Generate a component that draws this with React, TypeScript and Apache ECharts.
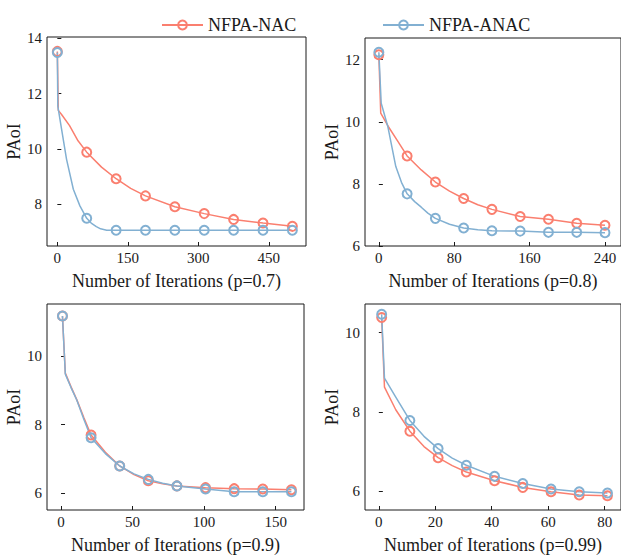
import React, { useEffect, useRef } from "react";
import * as echarts from "echarts";

const seriesNames = ["NFPA-NAC", "NFPA-ANAC"];
const seriesColors = ["#FA7F6F", "#82B0D2"];
const xAxisNames = [
  "Number of Iterations (p=0.7)",
  "Number of Iterations (p=0.8)",
  "Number of Iterations (p=0.9)",
  "Number of Iterations (p=0.99)",
];
const yAxisName = "PAoI";

// p = 0.7
const p07NacX = [0, 2, 9, 26, 44, 62.5, 94, 125, 156, 187.5, 250, 312.5, 375, 437.5, 500];
const p07NacY = [13.53, 11.4, 11.25, 10.85, 10.3, 9.89, 9.35, 8.93, 8.58, 8.31, 7.92, 7.67, 7.46, 7.33, 7.21];
const p07AnacX = [0, 1, 9, 19.5, 34, 48, 62.5, 72, 83, 92, 105, 125, 187.5, 250, 312.5, 375, 437.5, 500];
const p07AnacY = [13.49, 11.55, 10.72, 9.64, 8.55, 7.95, 7.5, 7.33, 7.2, 7.12, 7.07, 7.07, 7.07, 7.07, 7.07, 7.07, 7.07, 7.07];
const p07Markers = [0, 62.5, 125, 187.5, 250, 312.5, 375, 437.5, 500];
const p07XTicks = [0, 150, 300, 450];
const p07YTicks = [8, 10, 12, 14];

// p = 0.8
const p08NacX = [0, 2, 10, 20, 30, 45, 60, 75, 90, 105, 120, 150, 180, 210, 240];
const p08NacY = [12.16, 10.28, 9.85, 9.38, 8.9, 8.45, 8.06, 7.77, 7.53, 7.33, 7.18, 6.95, 6.86, 6.73, 6.67];
const p08AnacX = [0, 2.5, 9.5, 18, 24, 30, 38, 45, 52, 60, 75, 90, 105, 120, 150, 180, 210, 240];
const p08AnacY = [12.24, 10.6, 9.85, 8.56, 8.05, 7.68, 7.43, 7.25, 7.06, 6.89, 6.7, 6.58, 6.52, 6.49, 6.48, 6.44, 6.44, 6.43];
const p08Markers = [0, 30, 60, 90, 120, 150, 180, 210, 240];
const p08XTicks = [0, 80, 160, 240];
const p08YTicks = [6, 8, 10, 12];

// p = 0.9
const p09NacX = [1, 3, 7, 11, 16, 21, 31, 41, 51, 61, 71, 81, 101, 121, 141, 161];
const p09NacY = [11.16, 9.5, 9.1, 8.73, 8.2, 7.7, 7.2, 6.8, 6.55, 6.37, 6.28, 6.22, 6.17, 6.14, 6.13, 6.11];
const p09AnacX = [1, 3, 7, 11, 16, 21, 31, 41, 51, 61, 71, 81, 101, 121, 141, 161];
const p09AnacY = [11.16, 9.47, 9.08, 8.72, 8.15, 7.62, 7.16, 6.8, 6.57, 6.41, 6.3, 6.22, 6.13, 6.05, 6.05, 6.05];
const p09Markers = [1, 21, 41, 61, 81, 101, 121, 141, 161];
const p09XTicks = [0, 50, 100, 150];
const p09YTicks = [6, 8, 10];

// p = 0.99
const p099NacX = [1, 2, 6, 11, 16, 21, 26, 31, 41, 51, 61, 71, 81];
const p099NacY = [10.38, 8.62, 8.05, 7.51, 7.12, 6.84, 6.64, 6.48, 6.26, 6.09, 5.98, 5.9, 5.88];
const p099AnacX = [1, 2, 6, 11, 16, 21, 26, 31, 41, 51, 61, 71, 81];
const p099AnacY = [10.46, 8.85, 8.37, 7.78, 7.38, 7.07, 6.83, 6.65, 6.37, 6.19, 6.05, 5.98, 5.95];
const p099Markers = [1, 11, 21, 31, 41, 51, 61, 71, 81];
const p099XTicks = [0, 20, 40, 60, 80];
const p099YTicks = [6, 8, 10];

const FONT = "serif";
const INK = "#1a1a1a";

const panels = [
  { nac: [p07NacX, p07NacY], anac: [p07AnacX, p07AnacY], markers: p07Markers, xTicks: p07XTicks, yTicks: p07YTicks, xMin: -22, xMax: 529, yMin: 6.5, yMax: 14.05 },
  { nac: [p08NacX, p08NacY], anac: [p08AnacX, p08AnacY], markers: p08Markers, xTicks: p08XTicks, yTicks: p08YTicks, xMin: -14.7, xMax: 257, yMin: 6, yMax: 12.7 },
  { nac: [p09NacX, p09NacY], anac: [p09AnacX, p09AnacY], markers: p09Markers, xTicks: p09XTicks, yTicks: p09YTicks, xMin: -9.8, xMax: 169.8, yMin: 5.52, yMax: 11.51 },
  { nac: [p099NacX, p099NacY], anac: [p099AnacX, p099AnacY], markers: p099Markers, xTicks: p099XTicks, yTicks: p099YTicks, xMin: -4.9, xMax: 85.8, yMin: 5.52, yMax: 10.72 },
];

const grids = [
  { left: 47, top: 37, width: 259, height: 209 },
  { left: 365, top: 38, width: 260, height: 208 },
  { left: 47, top: 304, width: 257, height: 207 },
  { left: 365, top: 304, width: 260, height: 207 },
];

function buildData(xs: number[], ys: number[], markers: number[]) {
  return xs.map((x, i) =>
    markers.includes(x) ? { value: [x, ys[i]] } : { value: [x, ys[i]], symbol: "none" }
  );
}

export default function App() {
  const ref = useRef<HTMLDivElement>(null);
  useEffect(() => {
    if (!ref.current) return;
    const chart = echarts.init(ref.current, undefined, { renderer: "svg" });
    const xAxis: any[] = [];
    const yAxis: any[] = [];
    const series: any[] = [];
    panels.forEach((p, i) => {
      xAxis.push({
        type: "value",
        gridIndex: i,
        min: p.xMin,
        max: p.xMax,
        name: xAxisNames[i],
        nameLocation: "middle",
        nameGap: 26,
        nameTextStyle: { fontFamily: FONT, fontSize: 18, color: INK },
        splitLine: { show: false },
        axisLine: { show: false },
        axisTick: { show: true, inside: true, length: 4, customValues: p.xTicks, lineStyle: { color: INK } },
        axisLabel: { customValues: p.xTicks, fontFamily: FONT, fontSize: 15, color: INK, margin: 4 },
      });
      yAxis.push({
        type: "value",
        gridIndex: i,
        min: p.yMin,
        max: p.yMax,
        name: yAxisName,
        nameLocation: "middle",
        nameGap: 20,
        nameTextStyle: { fontFamily: FONT, fontSize: 18, color: INK },
        splitLine: { show: false },
        axisLine: { show: false },
        axisTick: { show: true, inside: true, length: 4, customValues: p.yTicks, lineStyle: { color: INK } },
        axisLabel: { customValues: p.yTicks, fontFamily: FONT, fontSize: 15, color: INK, margin: 5 },
      });
      [p.nac, p.anac].forEach((d, k) => {
        series.push({
          type: "line",
          name: seriesNames[k],
          xAxisIndex: i,
          yAxisIndex: i,
          data: buildData(d[0], d[1], p.markers),
          smooth: false,
          symbol: "circle",
          symbolSize: 9,
          showSymbol: true,
          showAllSymbol: true,
          color: seriesColors[k],
          lineStyle: { color: seriesColors[k], width: 1.5 },
          itemStyle: { color: "rgba(255,255,255,0)", borderColor: seriesColors[k], borderWidth: 2 },
          emphasis: { disabled: true },
        });
      });
    });
    chart.setOption({
      animation: false,
      backgroundColor: "#fff",
      textStyle: { fontFamily: FONT },
      legend: [
        {
          data: [seriesNames[0]],
          left: 156,
          top: 11,
          itemWidth: 41,
          itemHeight: 11,
          textStyle: { fontFamily: FONT, fontSize: 18, color: INK },
        },
        {
          data: [seriesNames[1]],
          left: 377,
          top: 11,
          itemWidth: 41,
          itemHeight: 11,
          textStyle: { fontFamily: FONT, fontSize: 18, color: INK },
        },
      ],
      grid: grids.map((g) => ({ ...g, show: true, borderColor: INK, borderWidth: 1, backgroundColor: "transparent" })),
      xAxis,
      yAxis,
      series,
    });
    return () => chart.dispose();
  }, []);
  return (
    <div
      ref={ref}
      style={{ position: "absolute", left: 0, top: 0, width: 621, height: 555 }}
    />
  );
}
